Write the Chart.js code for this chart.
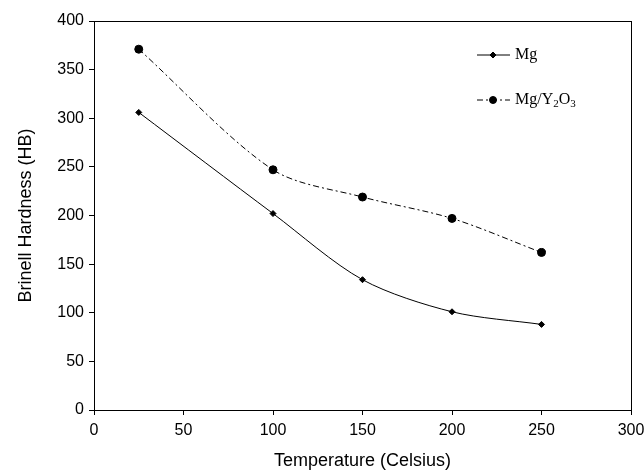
<!DOCTYPE html>
<html>
<head>
<meta charset="utf-8">
<script src="https://cdn.jsdelivr.net/npm/chart.js@4"></script>
<style>
  html, body { margin: 0; padding: 0; background: #fff; }
  #wrap { width: 644px; height: 473px; }
</style>
</head>
<body>
<div id="wrap"><canvas id="chart" width="644" height="473"></canvas></div>
<script>
const temperatures = [25, 100, 150, 200, 250];
const mgHardness = [306, 202, 134, 101, 88];
const mgY2O3Hardness = [371, 247, 219, 197, 162];
const seriesNames = ['Mg', 'Mg/Y2O3'];

const toPoints = (vals) => vals.map((v, i) => ({ x: temperatures[i], y: v }));

// writes "Mg/Y2O3" with real subscripts (digits drawn smaller and lower)
function drawChem(ctx, text, x, y) {
  let cx = x;
  for (const ch of text) {
    const sub = /[0-9]/.test(ch);
    ctx.font = sub ? '11px "Liberation Serif"' : '16px "Liberation Serif"';
    ctx.fillText(ch, cx, sub ? y + 4 : y);
    cx += ctx.measureText(ch).width;
  }
}

// frame around the plot + legend drawn inside like the original
const framePlugin = {
  id: 'frame',
  afterDraw(chart) {
    const { ctx, chartArea: a } = chart;
    ctx.save();
    ctx.strokeStyle = '#000';
    ctx.lineWidth = 1;
    ctx.strokeRect(a.left + 0.5, a.top + 0.5, a.right - a.left, a.bottom - a.top);

    const items = [
      { y: 55, dash: [], style: 'rectRot', r: 3 },
      { y: 100, dash: [6, 3, 2, 3], style: 'circle', r: 3.5 }
    ];
    items.forEach((it, i) => {
      ctx.beginPath();
      ctx.setLineDash(it.dash);
      ctx.lineWidth = 1;
      ctx.moveTo(477, it.y);
      ctx.lineTo(510, it.y);
      ctx.stroke();
      ctx.setLineDash([]);
      ctx.fillStyle = '#000';
      Chart.helpers.drawPoint(ctx, { pointStyle: it.style, radius: it.r, borderWidth: 1 }, 493, it.y);
      ctx.textBaseline = 'middle';
      drawChem(ctx, seriesNames[i], 515, it.y);
    });
    ctx.restore();
  }
};

new Chart(document.getElementById('chart'), {
  type: 'line',
  data: {
    datasets: [
      {
        label: seriesNames[0],
        data: toPoints(mgHardness),
        borderColor: '#000',
        backgroundColor: '#000',
        borderWidth: 1,
        pointStyle: 'rectRot',
        pointRadius: 3,
        tension: 0.3
      },
      {
        label: seriesNames[1],
        data: toPoints(mgY2O3Hardness),
        borderColor: '#000',
        backgroundColor: '#000',
        borderWidth: 1,
        borderDash: [6, 3, 2, 3],
        pointStyle: 'circle',
        pointRadius: 4,
        tension: 0.3
      }
    ]
  },
  options: {
    responsive: false,
    animation: false,
    layout: { padding: { top: 21, right: 13 } },
    plugins: { legend: { display: false }, tooltip: { enabled: false } },
    scales: {
      x: {
        type: 'linear',
        min: 0, max: 300,
        ticks: { stepSize: 50, color: '#000', font: { family: 'Liberation Sans', size: 16 }, padding: 6 },
        grid: { drawOnChartArea: false, tickLength: 5, color: '#000' },
        border: { color: '#000' },
        title: { display: true, text: 'Temperature (Celsius)', color: '#000', font: { family: 'Liberation Sans', size: 18 }, padding: { top: 4, bottom: 1 } },
        afterFit(s) { s.height = 63; s.paddingRight = 13; }
      },
      y: {
        min: 0, max: 400,
        ticks: { stepSize: 50, color: '#000', font: { family: 'Liberation Sans', size: 16 }, padding: 5 },
        grid: { drawOnChartArea: false, tickLength: 5, color: '#000' },
        border: { color: '#000' },
        title: { display: true, text: 'Brinell Hardness (HB)', color: '#000', font: { family: 'Liberation Sans', size: 18 }, padding: { top: 15, bottom: 4 } },
        afterFit(s) { s.width = 94; }
      }
    }
  },
  plugins: [framePlugin]
});
</script>
</body>
</html>
